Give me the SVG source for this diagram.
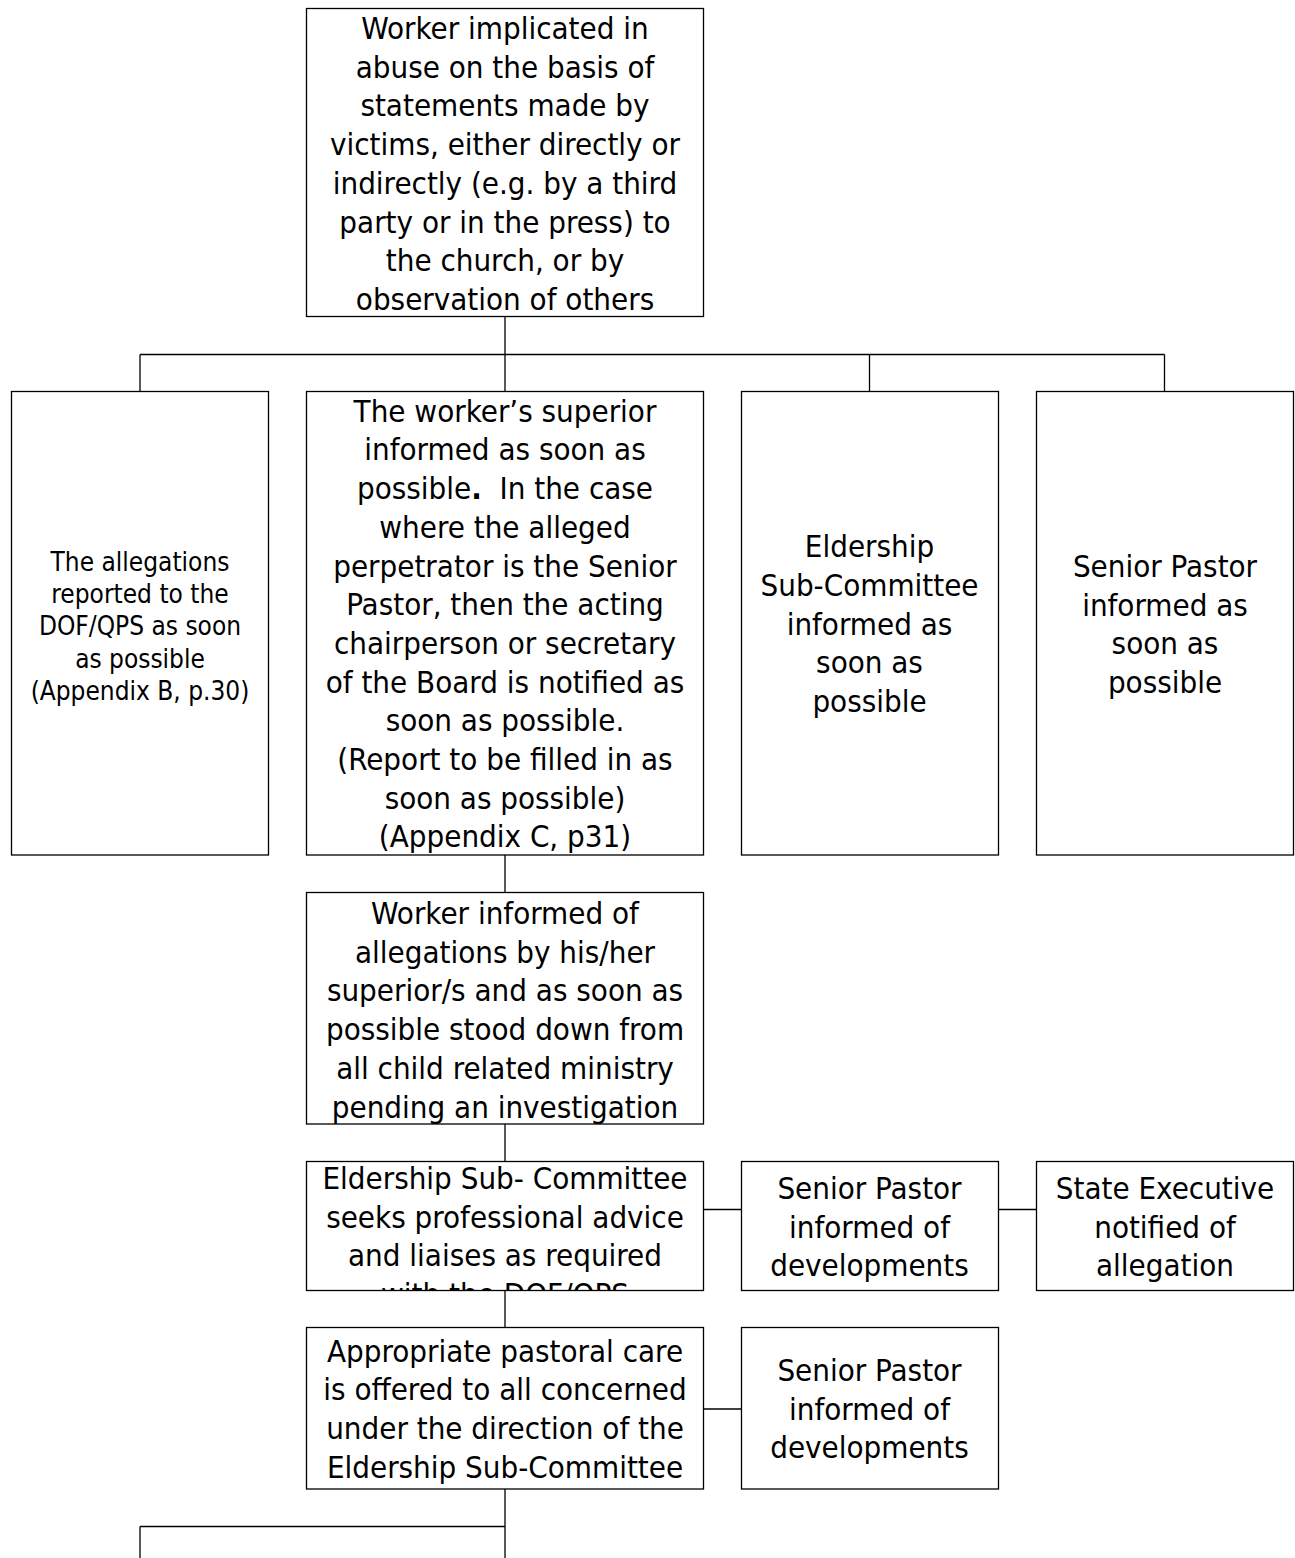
<svg xmlns="http://www.w3.org/2000/svg" width="1295" height="1558" viewBox="0 0 1295 1558">
<style>
.box{fill:#fff;stroke:#000;stroke-width:1.3}
.con{stroke:#000;stroke-width:1.3;fill:none}
.t{font-family:"DejaVu Sans Condensed","DejaVu Sans",sans-serif;font-stretch:condensed;font-size:31px;fill:#000;text-anchor:middle}
.s{font-size:26px}
</style>
<defs>
<clipPath id="clipEsc"><rect x="306.5" y="1161.5" width="397" height="129"/></clipPath>
</defs>
<rect width="1295" height="1558" fill="#fff"/>
<g id="connectors">
<line class="con" x1="505" y1="316.5" x2="505" y2="354.5"/>
<line class="con" x1="140" y1="354.5" x2="1164.5" y2="354.5"/>
<line class="con" x1="140" y1="354.5" x2="140" y2="391.5"/>
<line class="con" x1="505" y1="354.5" x2="505" y2="391.5"/>
<line class="con" x1="869.5" y1="354.5" x2="869.5" y2="391.5"/>
<line class="con" x1="1164.5" y1="354.5" x2="1164.5" y2="391.5"/>
<line class="con" x1="505" y1="855" x2="505" y2="892.5"/>
<line class="con" x1="505" y1="1124" x2="505" y2="1161.5"/>
<line class="con" x1="703.5" y1="1209.5" x2="741.5" y2="1209.5"/>
<line class="con" x1="998" y1="1209.5" x2="1036.5" y2="1209.5"/>
<line class="con" x1="505" y1="1290.5" x2="505" y2="1327.5"/>
<line class="con" x1="703.5" y1="1409" x2="741.5" y2="1409"/>
<line class="con" x1="505" y1="1489" x2="505" y2="1558"/>
<line class="con" x1="140" y1="1526.5" x2="505" y2="1526.5"/>
<line class="con" x1="140" y1="1526.5" x2="140" y2="1558"/>
</g>
<g id="n-top">
<rect class="box" x="306.5" y="8.5" width="397" height="308"/>
<text class="t"><tspan x="505" y="39">Worker implicated in</tspan><tspan x="505" y="77.7">abuse on the basis of</tspan><tspan x="505" y="116.4">statements made by</tspan><tspan x="505" y="155.1">victims, either directly or</tspan><tspan x="505" y="193.8">indirectly (e.g. by a third</tspan><tspan x="505" y="232.5">party or in the press) to</tspan><tspan x="505" y="271.2">the church, or by</tspan><tspan x="505" y="309.9">observation of others</tspan></text>
</g>
<g id="n-dof">
<rect class="box" x="11.5" y="391.5" width="257" height="463.5"/>
<text class="t s"><tspan x="140" y="570.7">The allegations</tspan><tspan x="140" y="603">reported to the</tspan><tspan x="140" y="635.3">DOF/QPS as soon</tspan><tspan x="140" y="667.6">as possible</tspan><tspan x="140" y="699.9">(Appendix B, p.30)</tspan></text>
</g>
<g id="n-superior">
<rect class="box" x="306.5" y="391.5" width="397" height="463.5"/>
<text class="t" xml:space="preserve"><tspan x="505" y="421.7">The worker’s superior</tspan><tspan x="505" y="460.4">informed as soon as</tspan><tspan x="505" y="499.1">possible<tspan font-weight="bold">.</tspan>  In the case</tspan><tspan x="505" y="537.8">where the alleged</tspan><tspan x="505" y="576.5">perpetrator is the Senior</tspan><tspan x="505" y="615.2">Pastor, then the acting</tspan><tspan x="505" y="653.9">chairperson or secretary</tspan><tspan x="505" y="692.6">of the Board is notified as</tspan><tspan x="505" y="731.3">soon as possible.</tspan><tspan x="505" y="770">(Report to be filled in as</tspan><tspan x="505" y="808.7">soon as possible)</tspan><tspan x="505" y="847.4">(Appendix C, p31)</tspan></text>
</g>
<g id="n-esc1">
<rect class="box" x="741.5" y="391.5" width="257" height="463.5"/>
<text class="t"><tspan x="869.5" y="557.1">Eldership</tspan><tspan x="869.5" y="595.8">Sub-Committee</tspan><tspan x="869.5" y="634.5">informed as</tspan><tspan x="869.5" y="673.2">soon as</tspan><tspan x="869.5" y="711.9">possible</tspan></text>
</g>
<g id="n-sp1">
<rect class="box" x="1036.5" y="391.5" width="257" height="463.5"/>
<text class="t"><tspan x="1165" y="577">Senior Pastor</tspan><tspan x="1165" y="615.7">informed as</tspan><tspan x="1165" y="654.4">soon as</tspan><tspan x="1165" y="693.1">possible</tspan></text>
</g>
<g id="n-worker">
<rect class="box" x="306.5" y="892.5" width="397" height="231.5"/>
<text class="t"><tspan x="505" y="924">Worker informed of</tspan><tspan x="505" y="962.7">allegations by his/her</tspan><tspan x="505" y="1001.4">superior/s and as soon as</tspan><tspan x="505" y="1040.1">possible stood down from</tspan><tspan x="505" y="1078.8">all child related ministry</tspan><tspan x="505" y="1117.5">pending an investigation</tspan></text>
</g>
<g id="n-esc2">
<rect class="box" x="306.5" y="1161.5" width="397" height="129"/>
<text class="t" clip-path="url(#clipEsc)"><tspan x="505" y="1189">Eldership Sub- Committee</tspan><tspan x="505" y="1227.5">seeks professional advice</tspan><tspan x="505" y="1266">and liaises as required</tspan><tspan x="505" y="1304.5">with the DOF/QPS</tspan></text>
</g>
<g id="n-sp2">
<rect class="box" x="741.5" y="1161.5" width="257" height="129"/>
<text class="t"><tspan x="869.5" y="1199">Senior Pastor</tspan><tspan x="869.5" y="1237.7">informed of</tspan><tspan x="869.5" y="1276.4">developments</tspan></text>
</g>
<g id="n-state">
<rect class="box" x="1036.5" y="1161.5" width="257" height="129"/>
<text class="t"><tspan x="1165" y="1199">State Executive</tspan><tspan x="1165" y="1237.7">notified of</tspan><tspan x="1165" y="1276.4">allegation</tspan></text>
</g>
<g id="n-pastoral">
<rect class="box" x="306.5" y="1327.5" width="397" height="161.5"/>
<text class="t"><tspan x="505" y="1361.5">Appropriate pastoral care</tspan><tspan x="505" y="1400.2">is offered to all concerned</tspan><tspan x="505" y="1438.9">under the direction of the</tspan><tspan x="505" y="1477.6">Eldership Sub-Committee</tspan></text>
</g>
<g id="n-sp3">
<rect class="box" x="741.5" y="1327.5" width="257" height="161.5"/>
<text class="t"><tspan x="869.5" y="1380.8">Senior Pastor</tspan><tspan x="869.5" y="1419.5">informed of</tspan><tspan x="869.5" y="1458.2">developments</tspan></text>
</g>
</svg>
